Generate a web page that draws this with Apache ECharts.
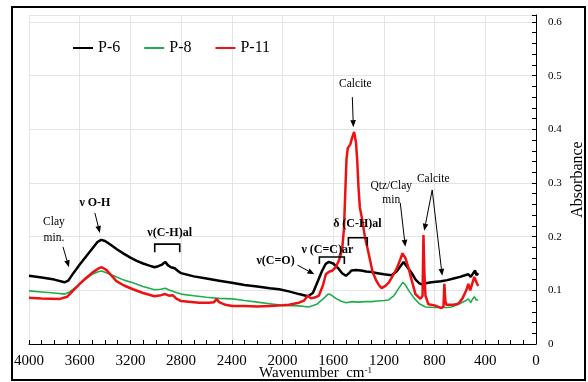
<!DOCTYPE html>
<html>
<head>
<meta charset="utf-8">
<script src="https://cdn.jsdelivr.net/npm/echarts@6/dist/echarts.min.js"></script>
<style>
  html, body { margin: 0; padding: 0; background: #fff; }
  #chart { width: 588px; height: 382px; }
</style>
</head>
<body>
<div id="chart"></div>
<script>
// FTIR spectra: [wavenumber (cm-1), absorbance]
const p6Points = [
  [4000,0.127],[3900,0.124],[3800,0.120],[3720,0.115],[3690,0.118],[3650,0.132],[3600,0.148],
  [3550,0.163],[3500,0.178],[3460,0.190],[3430,0.194],[3400,0.192],[3350,0.184],[3310,0.177],
  [3250,0.168],[3200,0.161],[3150,0.155],[3100,0.150],[3050,0.146],[3010,0.143],[2980,0.145],
  [2950,0.148],[2925,0.153],[2905,0.147],[2880,0.143],[2866,0.141],[2850,0.141],[2830,0.137],
  [2800,0.132],[2700,0.126],[2600,0.122],[2500,0.118],[2400,0.114],[2300,0.110],[2200,0.107],
  [2100,0.104],[2027,0.102],[1950,0.098],[1870,0.093],[1800,0.089],[1760,0.095],[1720,0.118],
  [1690,0.135],[1660,0.149],[1635,0.153],[1600,0.150],[1560,0.141],[1530,0.132],[1500,0.127],
  [1475,0.132],[1455,0.137],[1420,0.138],[1380,0.137],[1340,0.135],[1300,0.134],[1250,0.132],
  [1200,0.130],[1140,0.128],[1100,0.135],[1070,0.145],[1045,0.153],[1020,0.145],[980,0.132],
  [950,0.120],[920,0.113],[900,0.111],[870,0.113],[825,0.115],[750,0.117],[700,0.119],
  [650,0.122],[600,0.125],[560,0.128],[534,0.130],[515,0.125],[495,0.132],[480,0.137],
  [470,0.128],[456,0.132]
];
const p8Points = [
  [4000,0.099],[3900,0.097],[3800,0.095],[3717,0.093],[3680,0.097],[3620,0.108],[3560,0.120],
  [3500,0.130],[3450,0.135],[3426,0.136],[3380,0.132],[3300,0.124],[3250,0.119],[3180,0.114],
  [3100,0.107],[3010,0.101],[2960,0.102],[2925,0.104],[2890,0.100],[2850,0.097],[2800,0.093],
  [2700,0.090],[2600,0.087],[2500,0.085],[2397,0.084],[2300,0.081],[2200,0.078],[2100,0.075],
  [2000,0.072],[1870,0.071],[1792,0.069],[1730,0.074],[1680,0.084],[1640,0.093],[1620,0.092],
  [1580,0.085],[1540,0.080],[1500,0.077],[1450,0.079],[1400,0.078],[1350,0.079],[1300,0.079],
  [1250,0.080],[1200,0.081],[1163,0.082],[1120,0.090],[1080,0.105],[1050,0.115],[1030,0.110],
  [1000,0.098],[960,0.085],[920,0.075],[872,0.069],[800,0.068],[700,0.068],[668,0.069],
  [620,0.073],[560,0.080],[534,0.084],[515,0.077],[500,0.084],[487,0.088],[470,0.082],[456,0.082]
];
const p11Points = [
  [4000,0.086],[3900,0.085],[3756,0.084],[3700,0.088],[3650,0.100],[3600,0.112],[3550,0.123],
  [3500,0.133],[3450,0.141],[3426,0.143],[3390,0.138],[3340,0.125],[3310,0.117],[3250,0.109],
  [3180,0.102],[3100,0.095],[3010,0.089],[2960,0.091],[2925,0.093],[2895,0.090],[2866,0.091],
  [2840,0.085],[2800,0.080],[2700,0.078],[2656,0.077],[2580,0.077],[2540,0.078],[2520,0.084],
  [2500,0.078],[2450,0.073],[2397,0.071],[2300,0.071],[2200,0.070],[2100,0.071],[2000,0.072],
  [1949,0.073],[1870,0.077],[1830,0.081],[1800,0.090],[1790,0.093],[1775,0.085],[1740,0.087],
  [1713,0.090],[1680,0.110],[1658,0.130],[1630,0.135],[1611,0.136],[1580,0.143],[1556,0.155],
  [1530,0.175],[1515,0.215],[1505,0.280],[1495,0.345],[1485,0.365],[1465,0.372],[1450,0.385],
  [1435,0.395],[1420,0.375],[1410,0.340],[1400,0.290],[1390,0.255],[1370,0.230],[1350,0.200],
  [1320,0.168],[1290,0.135],[1260,0.118],[1240,0.110],[1218,0.104],[1190,0.108],[1160,0.115],
  [1140,0.123],[1100,0.140],[1070,0.158],[1053,0.169],[1030,0.160],[1006,0.142],[980,0.118],
  [951,0.093],[912,0.084],[895,0.090],[888,0.203],[880,0.130],[872,0.090],[849,0.074],
  [800,0.072],[746,0.067],[730,0.070],[723,0.112],[715,0.080],[707,0.073],[650,0.073],
  [613,0.075],[580,0.085],[550,0.100],[534,0.112],[519,0.100],[500,0.115],[487,0.125],
  [470,0.115],[456,0.108]
];

const seriesNames = ['P-6', 'P-8', 'P-11'];
const xTickStep = 400;
const yTickStep = 0.1;

// Band assignments, anchored in data units [wavenumber, absorbance]
const bandLabels = [
  { text: 'Calcite', at: [1425, 0.484], bold: false },
  { text: 'Clay\nmin.', at: [3803, 0.212], bold: false, lh: 16 },
  { text: 'ν O-H', at: [3480, 0.263], bold: true },
  { text: 'ν(C-H)al', at: [2890, 0.207], bold: true },
  { text: 'ν(C=O)', at: [2055, 0.155], bold: true },
  { text: 'ν (C=C)ar', at: [1646, 0.175], bold: true },
  { text: 'δ (C-H)al', at: [1409, 0.224], bold: true },
  { text: 'Qtz/Clay\nmin', at: [1142, 0.281], bold: false, lh: 14 },
  { text: 'Calcite', at: [811, 0.307], bold: false }
];
const bandArrows = [
  [[1449, 0.460], [1441, 0.404]],
  [[3732, 0.181], [3685, 0.143]],
  [[3480, 0.244], [3441, 0.207]],
  [[1882, 0.147], [1748, 0.130]],
  [[1071, 0.263], [1031, 0.181]],
  [[819, 0.287], [882, 0.211]],
  [[819, 0.287], [740, 0.127]]
];
// [from wavenumber, to wavenumber, top absorbance, foot absorbance]
const bandBrackets = [
  [3008, 2811, 0.186, 0.171],
  [1709, 1512, 0.162, 0.149],
  [1480, 1331, 0.198, 0.183]
];

const serif = 'Liberation Serif';
const chart = echarts.init(document.getElementById('chart'));

chart.setOption({
  animation: false,
  backgroundColor: '#fff',
  grid: { left: 29, right: 52, top: 15, bottom: 38, containLabel: false, outerBoundsMode: 'none' },
  legend: {
    data: seriesNames,
    left: 68, top: 35,
    icon: 'rect', itemWidth: 20, itemHeight: 2, itemGap: 24,
    textStyle: { fontFamily: serif, fontSize: 16, color: '#000' }
  },
  xAxis: {
    type: 'value', inverse: true, min: 0, max: 4000, interval: xTickStep,
    name: 'Wavenumber  cm{sup|-1}', nameLocation: 'middle', nameGap: 22, nameMoveOverlap: false,
    nameTextStyle: {
      fontFamily: serif, fontSize: 15, color: '#000', padding: [0, 0, 0, 66],
      rich: { sup: { fontFamily: serif, fontSize: 9, color: '#000', verticalAlign: 'top', padding: [0, 0, 6, 0] } }
    },
    axisLine: { onZero: false, lineStyle: { color: '#000', width: 1 } },
    axisTick: { inside: true, length: 4, lineStyle: { color: '#000' } },
    minorTick: { show: true, splitNumber: 4, length: 4, lineStyle: { color: '#000' } },
    axisLabel: { fontFamily: serif, fontSize: 15, color: '#000', margin: 10, formatter: v => String(v) },
    splitLine: { show: true, lineStyle: { color: '#e4e4e4', width: 1 } }
  },
  yAxis: {
    type: 'value', position: 'right', min: 0, max: 0.613, interval: yTickStep,
    name: 'Absorbance', nameLocation: 'middle', nameRotate: 90, nameGap: 34, nameMoveOverlap: false,
    nameTextStyle: { fontFamily: serif, fontSize: 16, color: '#000' },
    axisLine: { show: true, lineStyle: { color: '#000', width: 1 } },
    axisTick: { show: true, inside: true, length: 4, lineStyle: { color: '#000' } },
    minorTick: { show: true, splitNumber: 5, length: 4, lineStyle: { color: '#000' } },
    axisLabel: { fontFamily: serif, fontSize: 11, color: '#000', margin: 12, showMaxLabel: false },
    splitLine: { show: true, lineStyle: { color: '#e4e4e4', width: 1 } }
  },
  series: [
    { name: seriesNames[0], type: 'line', data: p6Points, showSymbol: false, symbol: 'none',
      lineStyle: { color: '#000', width: 2.5 }, itemStyle: { color: '#000' } },
    { name: seriesNames[1], type: 'line', data: p8Points, showSymbol: false, symbol: 'none',
      lineStyle: { color: '#1fae4e', width: 1.6 }, itemStyle: { color: '#1fae4e' } },
    { name: seriesNames[2], type: 'line', data: p11Points, showSymbol: false, symbol: 'none',
      lineStyle: { color: '#ee1111', width: 2.5 }, itemStyle: { color: '#ee1111' } }
  ]
});

// Annotations: text, arrows and brackets placed through the axes' scales
const px = p => chart.convertToPixel({ gridIndex: 0 }, p);
const graphics = [];

bandLabels.forEach(l => {
  const [x, y] = px(l.at);
  graphics.push({
    type: 'text', x, y, z: 10,
    style: {
      text: l.text, fill: '#000', fontFamily: serif,
      fontSize: l.bold ? 12 : 11.5, fontWeight: l.bold ? 'bold' : 'normal',
      align: 'center', verticalAlign: 'middle', lineHeight: l.lh || 14
    }
  });
});

bandArrows.forEach(a => {
  const [x1, y1] = px(a[0]);
  const [x2, y2] = px(a[1]);
  const ang = Math.atan2(y2 - y1, x2 - x1);
  const len = 7, half = 2.8;
  const bx = x2 - len * Math.cos(ang), by = y2 - len * Math.sin(ang);
  const nx = -Math.sin(ang) * half, ny = Math.cos(ang) * half;
  graphics.push({
    type: 'line', z: 10,
    shape: { x1, y1, x2: bx, y2: by },
    style: { stroke: '#000', lineWidth: 1 }
  });
  graphics.push({
    type: 'polygon', z: 10,
    shape: { points: [[x2, y2], [bx + nx, by + ny], [bx - nx, by - ny]] },
    style: { fill: '#000' }
  });
});

bandBrackets.forEach(b => {
  const [xa, yt] = px([b[0], b[2]]);
  const [xb, yf] = px([b[1], b[3]]);
  graphics.push({
    type: 'polyline', z: 10,
    shape: { points: [[xa, yf], [xa, yt], [xb, yt], [xb, yf]] },
    style: { stroke: '#000', lineWidth: 1.6, fill: null }
  });
});

// outer frame
graphics.push({
  type: 'rect', z: 0, silent: true,
  shape: { x: 12, y: 7, width: 573, height: 373 },
  style: { stroke: '#000', lineWidth: 2, fill: null }
});

chart.setOption({ graphic: graphics });
</script>
</body>
</html>
